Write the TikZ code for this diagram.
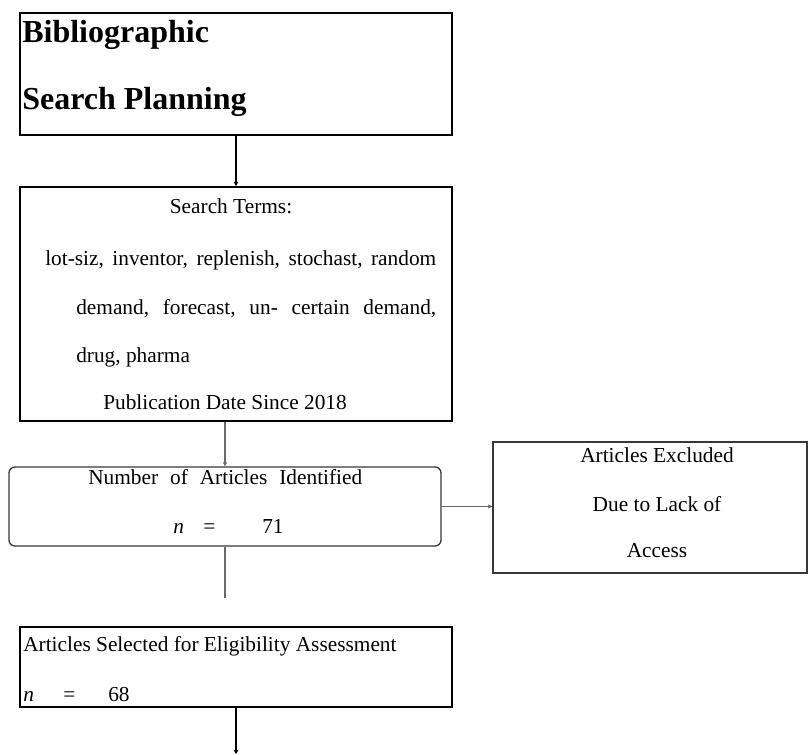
\documentclass[tikz,border=0pt]{standalone}
\usepackage{fontspec}
\setmainfont{Liberation Serif}
\usetikzlibrary{arrows.meta,positioning}
\definecolor{FlowGray}{RGB}{105,105,105}
\definecolor{BoxGray}{RGB}{55,55,55}

\begin{document}
\begin{tikzpicture}[x=0.75pt,y=-0.75pt,
  mainblk/.style={draw=black,line width=1.5pt,minimum width=324pt,inner sep=0pt},
  sideblk/.style={draw=BoxGray,line width=1pt,inner sep=0pt},
  txt/.style={font=\fontsize{16}{19}\selectfont,inner sep=0pt,anchor=base west},
  ctxt/.style={txt,anchor=base},
  ttl/.style={font=\fontsize{24}{28}\selectfont\bfseries,inner sep=0pt,anchor=base west},
  blkarr/.style={draw=black,line width=1.5pt,-{Straight Barb[length=2.5pt,width=3pt,line width=0.6pt]}},
  grayarr/.style={draw=FlowGray,line width=1pt,-{Triangle[length=3pt,width=3pt]}},
  grayline/.style={draw=FlowGray,line width=1pt},
]
\useasboundingbox (0,0) rectangle (808,755);
% boxes
\node[mainblk,minimum height=91.5pt] (plan) at (236,74) {};
\node[mainblk,minimum height=175.5pt] (terms) at (236,304) {};
\node[sideblk,rounded corners=4.5pt,minimum width=324pt,minimum height=59.25pt] (ident) at (225,506.5) {};
\node[sideblk,minimum width=235.5pt,minimum height=98.25pt] (excl) at (650,507.5) {};
\node[mainblk,minimum height=60pt] (select) at (236,667) {};
% texts
\node[ttl] (plan1) at (22,43) {Bibliographic};
\node[ttl] (plan2) at (22,110) {Search Planning};
\node[ctxt] (terms0) at (231,214) {Search Terms:};
\node[txt] (terms1) at (45,266) {\hbox to 293.25pt{lot-siz,\hfill inventor,\hfill replenish,\hfill stochast,\hfill random}};
\node[txt] (terms2) at (76,315) {\hbox to 270pt{demand,\hfill forecast,\hfill un-\hfill certain\hfill demand,}};
\node[txt] (terms3) at (76,363) {drug, pharma};
\node[txt] (terms4) at (103,410) {Publication Date Since 2018};
\node[txt] (ident1) at (88,485) {\hbox to 205.5pt{Number\hfill of\hfill Articles\hfill Identified}};
\node[txt] (ident2) at (173,534) {\makebox[22.5pt][l]{\textit{n}}\makebox[44.25pt][l]{=}71};
\foreach \y/\t [count=\i] in {463/{Articles Excluded},512/{Due to Lack of},558/Access}
  \node[ctxt] (excl\i) at (657,\y) {\t};
\node[txt] (select1) at (23,652) {Articles Selected for Eligibility Assessment};
\node[txt] (select2) at (23,702) {\makebox[30pt][l]{\textit{n}}\makebox[33.75pt][l]{=}68};
% connectors
\coordinate (identend) at (225,598);
\coordinate (selectend) at (236,754);
\draw[blkarr] (plan.south) -- (terms.north);
\draw[grayarr] (terms.south -| ident.north) -- (ident.north);
\draw[grayarr] (ident.east) -- (ident.east -| excl.west);
\draw[grayline] (ident.south) -- (identend);
\draw[blkarr] (select.south) -- (selectend);
\end{tikzpicture}
\end{document}
